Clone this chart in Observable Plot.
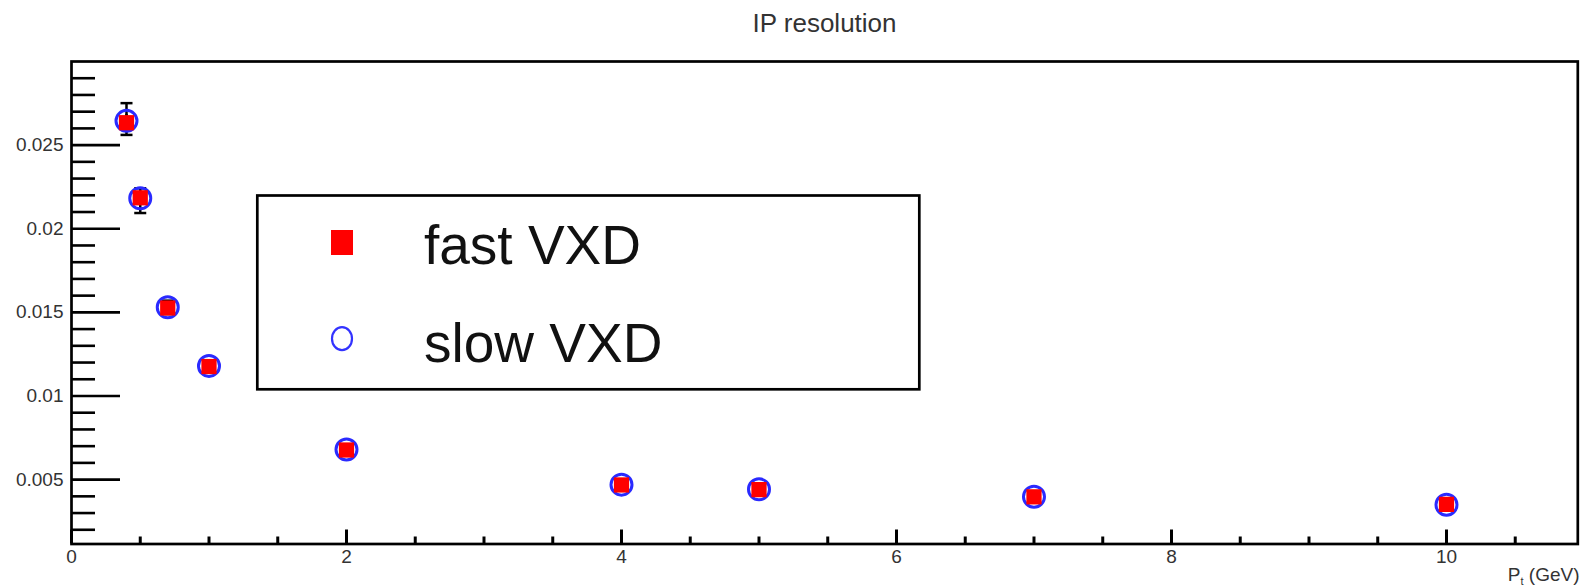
<!DOCTYPE html>
<html><head><meta charset="utf-8">
<script src="https://cdn.jsdelivr.net/npm/d3@7"></script>
<script src="https://cdn.jsdelivr.net/npm/@observablehq/plot@0.6"></script>
<style>
html,body{margin:0;padding:0;background:#fff;}
#chart{position:relative;width:1583px;height:587px;overflow:hidden;}
#chart svg{display:block;}
</style></head><body><div id="chart"></div>
<script>
const titleText = "IP resolution";
const ptValues = [0.4, 0.5, 0.7, 1, 2, 4, 5, 7, 10];
const fastVXD = [0.02634, 0.02185, 0.01526, 0.01176, 0.00677, 0.00468, 0.00440, 0.00397, 0.00352];
const fastErr = [0.0005, 0.0004, 0.0003, 0.0002, 0.0001, 0.0001, 0.0001, 0.0001, 0.0001];
const slowVXD = [0.02645, 0.02182, 0.01530, 0.01180, 0.00680, 0.00470, 0.00442, 0.00398, 0.00350];
const slowErrUp = [0.00106, 0.0006, 0.0004, 0.0003, 0.0002, 0.0001, 0.0001, 0.0001, 0.0001];
const slowErrDown = [0.00084, 0.00088, 0.0004, 0.0003, 0.0002, 0.0001, 0.0001, 0.0001, 0.0001];
const seriesNames = ["fast VXD", "slow VXD"];
const xTicks = [0, 2, 4, 6, 8, 10];
const xTickLabels = ["0", "2", "4", "6", "8", "10"];
const yTicks = [0.005, 0.01, 0.015, 0.02, 0.025];
const yTickLabels = ["0.005", "0.01", "0.015", "0.02", "0.025"];
const xMinorTicks = d3.range(1, 22).filter(i => i % 4 !== 0).map(i => i / 2);
const yMinorTicks = d3.range(2, 30).filter(i => i % 5 !== 0).map(i => i / 1000);

const fast = ptValues.map((x, i) => ({x, y: fastVXD[i], lo: fastVXD[i] - fastErr[i], hi: fastVXD[i] + fastErr[i]}));
const slow = ptValues.map((x, i) => ({x, y: slowVXD[i], lo: slowVXD[i] - slowErrDown[i], hi: slowVXD[i] + slowErrUp[i]}));

const W = 1583, H = 587;
const mL = 71, mR = 5.7, mT = 61, mB = 43.5;
const fw = W - mL - mR, fh = H - mT - mB;

const capSymbol = {draw(ctx, size) { ctx.moveTo(-6, 0); ctx.lineTo(6, 0); }};

const plot = Plot.plot({
  width: W, height: H,
  marginLeft: mL, marginRight: mR, marginTop: mT, marginBottom: mB,
  style: {fontFamily: "'Liberation Sans', Arial, sans-serif", background: "#fff"},
  x: {domain: [0, 10.955]},
  y: {domain: [0.00115, 0.03]},
  marks: [
    Plot.tickY(yMinorTicks, {y: d => d, stroke: "black", strokeWidth: 2.6, insetRight: fw - 24}),
    Plot.tickY(yTicks, {y: d => d, stroke: "black", strokeWidth: 2.6, insetRight: fw - 49}),
    Plot.tickX(xMinorTicks, {x: d => d, stroke: "black", strokeWidth: 3, insetTop: fh - 7}),
    Plot.tickX(xTicks, {x: d => d, stroke: "black", strokeWidth: 3, insetTop: fh - 14}),
    Plot.axisY({ticks: yTicks, tickSize: 0, tickPadding: 8, fontSize: 19, fill: "#333",
      tickFormat: d => yTickLabels[yTicks.indexOf(d)], label: null}),
    Plot.axisX({ticks: xTicks, tickSize: 0, tickPadding: 5, fontSize: 19, fill: "#333",
      tickFormat: d => xTickLabels[xTicks.indexOf(d)], label: null}),
    Plot.frame({stroke: "black", strokeWidth: 2.7}),
    Plot.ruleX(slow, {x: "x", y1: "lo", y2: "hi", stroke: "black", strokeWidth: 2.5}),
    Plot.ruleX(fast, {x: "x", y1: "lo", y2: "hi", stroke: "black", strokeWidth: 2.5}),
    Plot.dot(slow, {x: "x", y: "hi", symbol: capSymbol, r: 3, fill: "none", stroke: "black", strokeWidth: 2.5}),
    Plot.dot(slow, {x: "x", y: "lo", symbol: capSymbol, r: 3, fill: "none", stroke: "black", strokeWidth: 2.5}),
    Plot.dot(slow, {x: "x", y: "y", r: 10.5, fill: "none", stroke: "#2a2aff", strokeWidth: 3}),
    Plot.dot(fast, {x: "x", y: "y", symbol: "square", r: 8.6, fill: "red", stroke: "none"})
  ]
});

const svg = d3.select(plot);
// title
svg.append("text").attr("x", 824.5).attr("y", 32).attr("text-anchor", "middle")
  .attr("font-size", 26).attr("fill", "#333").text(titleText);
// x axis label
const xl = svg.append("text").attr("x", 1579.5).attr("y", 581).attr("text-anchor", "end")
  .attr("font-size", 19).attr("fill", "#333");
xl.append("tspan").text("P");
xl.append("tspan").attr("font-size", 11).attr("dy", 3.5).text("t");
xl.append("tspan").attr("dy", -3.5).text(" (GeV)");
// legend
const lg = svg.append("g");
lg.append("rect").attr("x", 257.3).attr("y", 195.5).attr("width", 662).attr("height", 193.8)
  .attr("fill", "white").attr("stroke", "black").attr("stroke-width", 2.7);
lg.append("rect").attr("x", 331).attr("y", 230).attr("width", 22).attr("height", 25).attr("fill", "red");
lg.append("ellipse").attr("cx", 342).attr("cy", 338.7).attr("rx", 10).attr("ry", 11.5)
  .attr("fill", "none").attr("stroke", "#3333ff").attr("stroke-width", 2.2);
lg.append("text").attr("x", 424).attr("y", 264.3).attr("text-anchor", "start")
  .attr("font-size", 55).attr("fill", "#111").text(seriesNames[0]);
lg.append("text").attr("x", 424).attr("y", 361.7).attr("text-anchor", "start")
  .attr("font-size", 55).attr("fill", "#111").text(seriesNames[1]);

document.getElementById("chart").appendChild(plot);
</script></body></html>
